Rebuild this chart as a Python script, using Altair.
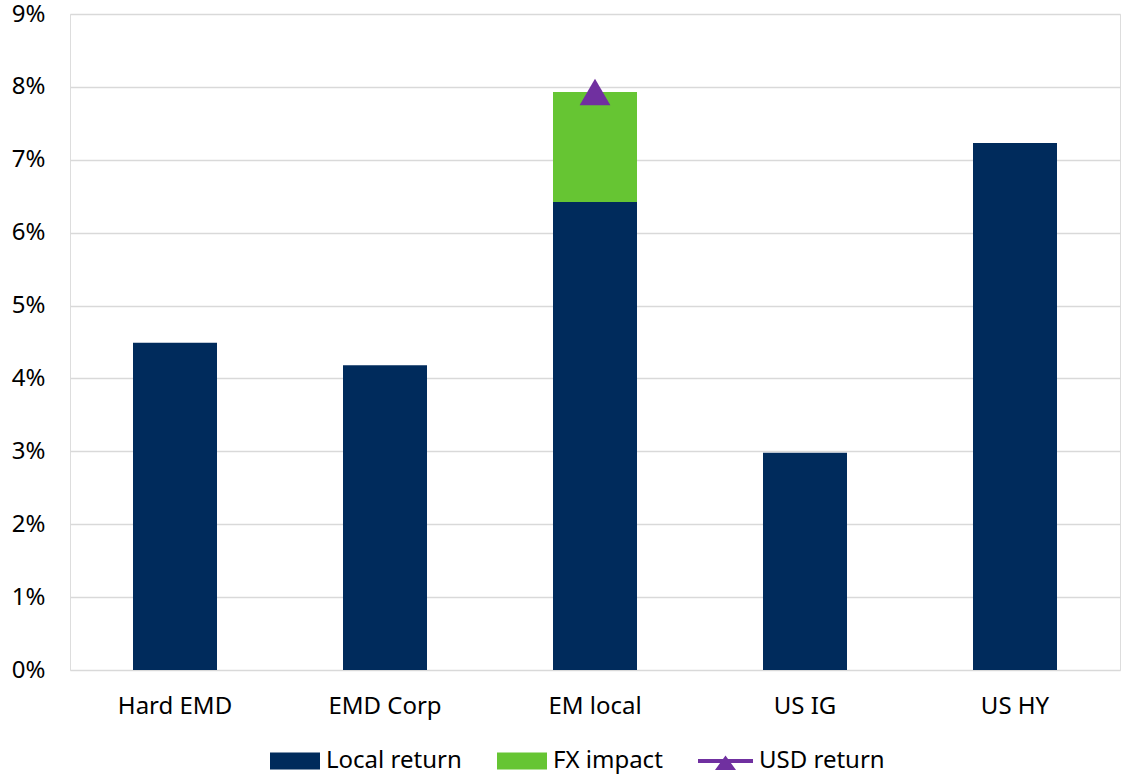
import altair as alt
import pandas as pd

categories = ["Hard EMD", "EMD Corp", "EM local", "US IG", "US HY"]
local_return = [4.49, 4.18, 6.42, 2.98, 7.23]
fx_impact = [0.0, 0.0, 1.51, 0.0, 0.0]
usd_return_cat = ["EM local"]
usd_return = [7.93]

series_names = ["Local return", "FX impact", "USD return"]
series_colors = ["#002B5C", "#66C533", "#7030A0"]

rows = []
for c, l, f in zip(categories, local_return, fx_impact):
    rows.append({"cat": c, "series": "Local return", "value": l / 100, "ord": 0})
    rows.append({"cat": c, "series": "FX impact", "value": f / 100, "ord": 1})
bars_df = pd.DataFrame(rows)
pts_df = pd.DataFrame({"cat": usd_return_cat, "series": "USD return",
                       "value": [v / 100 for v in usd_return]})

FONT = "Noto Sans"
FS = 24

rect_path = "M-1,-0.34H1V0.34H-1Z"
usd_path = ("M-1.2,-0.08H1.0V0.08H-1.2Z "
            "M-0.52,0.36L-0.1,-0.22L0.32,0.36Z")

color = alt.Color(
    "series:N",
    scale=alt.Scale(domain=series_names, range=series_colors),
    legend=alt.Legend(
        title=None,
        orient="none",
        direction="horizontal",
        legendX=200,
        legendY=722,
        labelFont=FONT,
        labelFontSize=FS,
        labelColor="#000000",
        labelOffset=6,
        columnPadding=35,
        symbolSize=2500,
        symbolStrokeWidth=0,
        symbolOpacity=1,
        symbolType={"expr": f"datum.value == 'USD return' ? '{usd_path}' : '{rect_path}'"},
    ),
)

x = alt.X(
    "cat:N",
    sort=categories,
    scale=alt.Scale(paddingInner=0.6, paddingOuter=0.3),
    axis=alt.Axis(
        title=None, labelAngle=0, labelFont=FONT, labelFontSize=FS,
        labelColor="#000000", ticks=False, domain=False, labelPadding=24,
    ),
)

y = alt.Y(
    "value:Q",
    stack="zero",
    scale=alt.Scale(domain=[0, 0.09], nice=False),
    axis=alt.Axis(
        title=None, format=".0%", values=[i / 100 for i in range(10)],
        labelFont=FONT, labelFontSize=FS, labelColor="#000000",
        ticks=False, domain=False, labelPadding=25,
        grid=True, gridColor="#D9D9D9", gridWidth=1.5,
    ),
)

bars = alt.Chart(bars_df).mark_bar().encode(
    x=x,
    y=y,
    color=color,
    order=alt.Order("ord:Q"),
)

pts = alt.Chart(pts_df).mark_point(
    shape="triangle-up", filled=True, size=950, opacity=1
).encode(
    x=alt.X("cat:N", sort=categories),
    y=alt.Y("value:Q"),
    color=alt.Color("series:N"),
)

chart = (
    alt.layer(bars, pts)
    .properties(
        width=1050,
        height=656,
        autosize=alt.AutoSizeParams(type="none"),
        padding={"left": 70, "top": 14, "right": 3, "bottom": 104},
    )
    .configure_view(stroke=None)
    .configure(background="white")
)

chart.save("out.html", embed_options={"renderer": "svg", "actions": False})
